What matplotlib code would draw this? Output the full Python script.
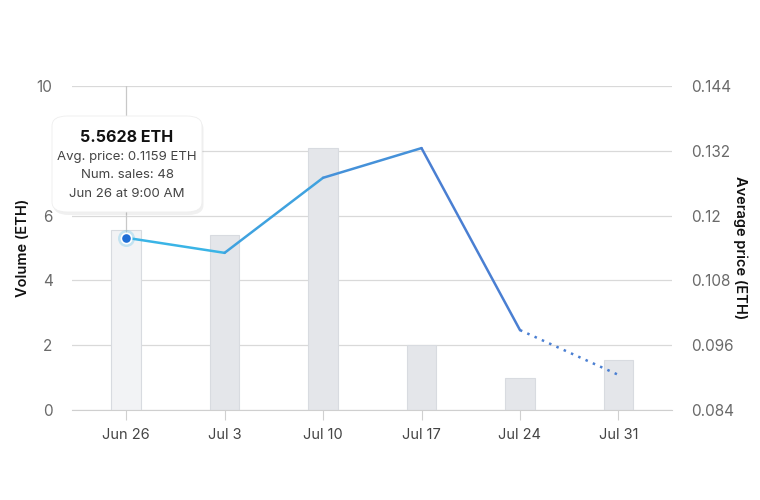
import numpy as np
import matplotlib.pyplot as plt
from matplotlib.patches import FancyBboxPatch
from matplotlib.colors import LinearSegmentedColormap

plt.rcParams['font.family'] = ['Inter', 'DejaVu Sans']

# data
dates = ['Jun 26', 'Jul 3', 'Jul 10', 'Jul 17', 'Jul 24', 'Jul 31']
volume = [5.5628, 5.4, 8.1, 2.0, 1.0, 1.55]
avg_price = [0.1159, 0.1131, 0.1270, 0.1325, 0.0988, 0.0905]
# last point is still in progress (dotted)
n_solid = 5

fig = plt.figure(figsize=(7.6, 5), dpi=100)
ax = fig.add_axes([0.0947, 0.18, 0.789, 0.648])
ax2 = ax.twinx()

x = np.arange(len(dates))
bar_colors = ['#f2f3f5'] + ['#e4e6ea'] * (len(dates) - 1)
ax.bar(x, volume, width=0.3, color=bar_colors, edgecolor='#d8dbe0', linewidth=0.8, zorder=2)

ax.set_xlim(-0.55, 5.54)
ax.set_ylim(0, 10)
ax.set_yticks([0, 2, 4, 6, 8, 10])
ax.set_yticklabels(['0', '2', '4', '6', '', '10'])
ax.set_xticks(x)
ax.set_xticklabels(dates)
ax.grid(axis='y', color='#d9d9d9', linewidth=0.9, zorder=0)
ax.set_axisbelow(True)
for s in ['top', 'right', 'left']:
    ax.spines[s].set_visible(False)
ax.spines['bottom'].set_color('#cfcfcf')
ax.tick_params(axis='y', length=0, pad=14, labelsize=11, labelcolor='#6a6a6a')
ax.tick_params(axis='x', length=7, color='#d0d0d0', pad=6, labelsize=10.5, labelcolor='#444444')
ax.set_ylabel('Volume (ETH)', fontsize=10.5, fontweight='semibold', color='#111111')
ax.yaxis.set_label_coords(-0.07, 0.5)

ax2.set_ylim(0.084, 0.144)
ax2.set_yticks([0.084, 0.096, 0.108, 0.12, 0.132, 0.144])
ax2.set_yticklabels(['0.084', '0.096', '0.108', '0.12', '0.132', '0.144'])
for s in ax2.spines.values():
    s.set_visible(False)
ax2.tick_params(axis='y', length=0, pad=14, labelsize=11, labelcolor='#6a6a6a')
ax2.set_ylabel('Average price (ETH)', fontsize=10.5, fontweight='semibold', color='#111111',
               rotation=-90, va='center')
ax2.yaxis.set_label_coords(1.115, 0.5)

# gradient line, cyan to blue
cmap = LinearSegmentedColormap.from_list('ln', ['#3ab4e6', '#4a7fd2'])
for i in range(n_solid - 1):
    ax2.plot(x[i:i + 2], avg_price[i:i + 2], color=cmap(i / (n_solid - 2)), linewidth=1.8,
             solid_capstyle='round', zorder=3)
ax2.plot(x[n_solid - 1:], avg_price[n_solid - 1:], color='#4a7fd2', linewidth=1.8,
         linestyle=(0, (1, 2.2)), zorder=3)

# hover crosshair and point
ax2.plot([x[0], x[0]], [avg_price[0], 0.144], color='#c8c8c8', linewidth=0.9, zorder=1)
ax2.scatter([x[0]], [avg_price[0]], s=150, color='#3ab4e6', alpha=0.25, zorder=4, linewidths=0)
ax2.scatter([x[0]], [avg_price[0]], s=55, color='#1f6fd6', edgecolor='white', linewidth=1.2, zorder=5)

# tooltip
tx, ty, tw, th = 52 / 760, 1 - 212 / 500, 150 / 760, 96 / 500
shadow = FancyBboxPatch((tx + 0.002, ty - 0.006), tw, th, boxstyle='round,pad=0,rounding_size=0.02',
                        transform=fig.transFigure, facecolor='#000000', alpha=0.06, edgecolor='none', zorder=8)
box = FancyBboxPatch((tx, ty), tw, th, boxstyle='round,pad=0,rounding_size=0.02',
                     transform=fig.transFigure, facecolor='white', edgecolor='#eeeeee', linewidth=0.6, zorder=9)
fig.patches.extend([shadow, box])
cx = tx + tw / 2
fig.text(cx, 1 - 137 / 500, f'{volume[0]:.4f} ETH', ha='center', va='center', fontsize=11.5,
         fontweight='bold', color='#111111', zorder=10)
fig.text(cx, 1 - 157 / 500, f'Avg. price: {avg_price[0]} ETH', ha='center', va='center',
         fontsize=9.5, color='#444444', zorder=10)
fig.text(cx, 1 - 175 / 500, 'Num. sales: 48', ha='center', va='center', fontsize=9.5,
         color='#444444', zorder=10)
fig.text(cx, 1 - 194 / 500, 'Jun 26 at 9:00 AM', ha='center', va='center', fontsize=9.5,
         color='#444444', zorder=10)

fig.savefig('out.png', dpi=100)
